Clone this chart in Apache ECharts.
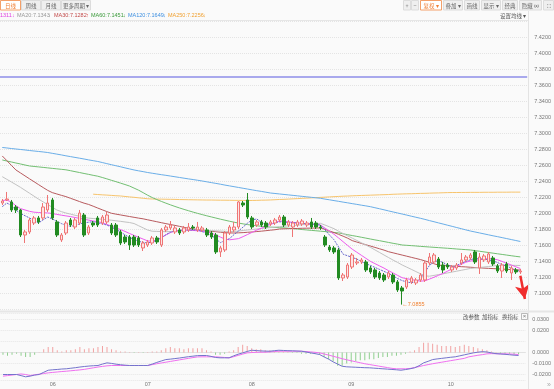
<!DOCTYPE html>
<html><head><meta charset="utf-8">
<script src="https://cdn.jsdelivr.net/npm/echarts@6/dist/echarts.min.js"></script>
<style>html,body{margin:0;padding:0;background:#fafafa}#c{width:554px;height:389px}</style>
</head><body><div id="c"></div>
<script>
// ---- data ----
const monthIdx = [11, 32, 55, 77, 99];
const monthLabels = ['06', '07', '08', '09', '10'];
const slotCount = 116;
// [open, close, low, high]
const ohlc = [
[7.2125,7.215,7.21,7.2175],[7.2163,7.2175,7.215,7.2263],[7.2138,7.2038,7.2013,7.2163],[7.2075,7.2038,7.2,7.21],
[7.2038,7.1725,7.17,7.205],[7.1725,7.1763,7.1625,7.1788],[7.1763,7.1913,7.1738,7.1938],[7.1875,7.1938,7.185,7.1963],
[7.1938,7.1888,7.1863,7.1963],[7.1938,7.2075,7.1913,7.2125],[7.2038,7.2125,7.2013,7.2225],[7.2163,7.1938,7.1913,7.2188],
[7.1888,7.1725,7.17,7.1913],[7.1663,7.1725,7.1638,7.175],[7.175,7.1875,7.1725,7.19],[7.1913,7.185,7.1825,7.1938],
[7.1825,7.1913,7.18,7.1938],[7.1875,7.2,7.185,7.2038],[7.1975,7.1725,7.17,7.2],[7.175,7.1825,7.1725,7.185],
[7.1875,7.185,7.1825,7.19],[7.1938,7.185,7.1825,7.1963],[7.1875,7.195,7.185,7.1975],[7.1888,7.1975,7.1863,7.2013],
[7.185,7.175,7.1725,7.1875],[7.185,7.1725,7.17,7.1875],[7.1763,7.1625,7.16,7.1788],[7.17,7.1638,7.1613,7.1725],
[7.17,7.16,7.1538,7.1725],[7.17,7.16,7.1575,7.1725],[7.1688,7.16,7.1575,7.1713],[7.1563,7.1625,7.1525,7.165],
[7.16,7.1638,7.1575,7.1663],[7.1625,7.1688,7.16,7.1713],[7.1688,7.1638,7.1613,7.1713],[7.16,7.1788,7.1575,7.1813],
[7.1788,7.1825,7.1763,7.185],[7.1813,7.185,7.1788,7.19],[7.1763,7.1813,7.1738,7.1838],[7.1788,7.175,7.1725,7.1813],
[7.1763,7.1813,7.1738,7.1838],[7.1788,7.1825,7.1763,7.1875],[7.1825,7.1813,7.1788,7.185],[7.1788,7.1825,7.1763,7.1888],
[7.1788,7.1813,7.1763,7.1838],[7.1788,7.1725,7.17,7.1813],[7.175,7.17,7.1675,7.1775],[7.1725,7.1513,7.1488,7.175],
[7.1513,7.1563,7.145,7.1588],[7.1538,7.175,7.1513,7.1775],[7.175,7.1825,7.1725,7.185],[7.1788,7.1825,7.1763,7.1888],
[7.1825,7.2138,7.18,7.215],[7.2125,7.21,7.2075,7.215],[7.2163,7.195,7.1925,7.225],[7.1938,7.1825,7.18,7.1963],
[7.185,7.1888,7.1825,7.1913],[7.1888,7.185,7.1825,7.1913],[7.1875,7.1825,7.18,7.19],[7.1863,7.1888,7.1838,7.1913],
[7.1875,7.1913,7.185,7.1938],[7.1913,7.195,7.1888,7.1975],[7.195,7.185,7.1825,7.1975],[7.185,7.1888,7.1825,7.1913],
[7.1825,7.1875,7.17,7.19],[7.185,7.1888,7.1825,7.1913],[7.1863,7.19,7.1838,7.1925],[7.185,7.1875,7.1825,7.19],
[7.1888,7.1825,7.18,7.1938],[7.1875,7.1825,7.18,7.19],[7.1825,7.1813,7.1788,7.185],[7.17,7.16,7.1575,7.1725],
[7.1575,7.1538,7.1513,7.16],[7.1563,7.1513,7.1488,7.1588],[7.1538,7.1188,7.1163,7.1563],[7.1188,7.1225,7.115,7.125],
[7.12,7.135,7.1175,7.1375],[7.1325,7.1475,7.13,7.15],[7.1375,7.1388,7.135,7.1438],[7.1388,7.1413,7.1363,7.1438],
[7.1388,7.1288,7.1263,7.1413],[7.1313,7.1263,7.1238,7.1338],[7.1288,7.12,7.1175,7.1313],[7.125,7.1188,7.1163,7.1275],
[7.1225,7.1163,7.1138,7.125],[7.12,7.125,7.1175,7.1275],[7.1225,7.1138,7.1113,7.125],[7.1138,7.1038,7.1013,7.1163],
[7.1063,7.1025,7.0855,7.1088],[7.1075,7.1163,7.105,7.1188],[7.1138,7.1188,7.1113,7.1213],[7.1125,7.1163,7.11,7.1188],
[7.1163,7.1225,7.1138,7.125],[7.1163,7.1375,7.1138,7.14],[7.1375,7.145,7.135,7.15],[7.1388,7.1475,7.1363,7.15],
[7.1425,7.1325,7.13,7.145],[7.135,7.1288,7.125,7.1388],[7.135,7.1325,7.13,7.1375],[7.1288,7.1325,7.1263,7.135],
[7.1313,7.135,7.1288,7.1375],[7.1375,7.1413,7.135,7.15],[7.1413,7.145,7.1388,7.1475],[7.1438,7.1475,7.1413,7.15],
[7.1513,7.1388,7.1363,7.1538],[7.1313,7.145,7.1238,7.15],[7.1413,7.1463,7.1388,7.1488],[7.1388,7.1488,7.1363,7.1513],
[7.1438,7.1363,7.1338,7.1463],[7.1338,7.1275,7.125,7.1363],[7.1275,7.135,7.1188,7.1375],[7.1363,7.1275,7.125,7.1388],
[7.125,7.1313,7.1163,7.1338],[7.1288,7.1263,7.1238,7.1313],[7.1263,7.1275,7.1238,7.13]
];
const ma5 = [7.2079,7.2125,7.2095,7.2035,7.1995,7.1966,7.1938,7.1905,7.1875,7.1915,7.195,7.1926,7.1897,7.1868,7.1846,7.1833,7.1845,7.1864,7.1876,7.1885,
7.1891,7.1877,7.1864,7.185,7.1823,7.1795,7.1765,7.1727,7.1696,7.1669,7.1645,7.1634,7.1625,7.164,7.1658,7.1692,7.1728,7.176,7.1775,7.1785,
7.1788,7.1788,7.1788,7.1788,7.1767,7.1745,7.1724,7.1676,7.163,7.1655,7.168,7.173,7.1776,7.1825,7.1875,7.1915,7.1925,7.1885,7.1855,7.1865,
7.1878,7.189,7.1886,7.1882,7.1878,7.1874,7.187,7.1866,7.1862,7.1857,7.185,7.179,7.1725,7.1665,7.1575,7.1485,7.1465,7.1445,7.1425,7.1395,
7.1366,7.1345,7.132,7.1295,7.127,7.1245,7.1215,7.118,7.1155,7.1138,7.1128,7.114,7.118,7.126,7.1345,7.139,7.1405,7.138,7.135,7.133,
7.1345,7.1372,7.1395,7.1415,7.1432,7.1428,7.1422,7.1415,7.14,7.138,7.1355,7.1335,7.1312,7.129,7.127];
const ma10 = [7.2156,7.2162,7.2136,7.2091,7.2055,7.2038,7.2021,7.201,7.2006,7.2003,7.2001,7.1993,7.1983,7.1973,7.1964,7.1955,7.1944,7.1933,7.1922,7.1911,
7.19,7.1892,7.1878,7.1857,7.1836,7.1814,7.1793,7.177,7.1744,7.172,7.1697,7.1674,7.1651,7.1648,7.1658,7.169,7.1726,7.1755,7.1775,7.1782,
7.1787,7.1787,7.1782,7.1778,7.1773,7.1767,7.175,7.1725,7.1699,7.1674,7.1665,7.1672,7.168,7.1705,7.1732,7.1759,7.1786,7.181,7.1833,7.1856,
7.1878,7.19,7.1894,7.1889,7.1883,7.1877,7.1872,7.1866,7.1861,7.1855,7.185,7.1812,7.1773,7.1734,7.1688,7.1641,7.1594,7.1548,7.151,7.1472,
7.1434,7.1396,7.1367,7.1339,7.1311,7.1279,7.125,7.122,7.1191,7.1179,7.1168,7.1158,7.1148,7.1153,7.1174,7.1197,7.1221,7.1245,7.1274,7.1302,
7.1331,7.1358,7.1385,7.1399,7.1408,7.1416,7.1424,7.1432,7.1425,7.1415,7.1394,7.1372,7.135,7.1328,7.1306];
const ma20 = [7.2454,7.2421,7.2388,7.2355,7.2321,7.2284,7.2247,7.221,7.2173,7.2139,7.2105,7.2072,7.2038,7.2017,7.2,7.1986,7.1972,7.1959,7.1945,7.1936,
7.1931,7.1926,7.1921,7.1916,7.191,7.1903,7.1896,7.1888,7.1881,7.1868,7.1841,7.1814,7.1787,7.1772,7.177,7.1768,7.1766,7.1769,7.1772,7.1775,
7.1778,7.1781,7.1784,7.1787,7.1786,7.1783,7.178,7.1777,7.1774,7.1771,7.1768,7.1769,7.1775,7.1782,7.1788,7.1794,7.18,7.1806,7.1812,7.1818,
7.1824,7.1829,7.1834,7.1839,7.1843,7.1848,7.1853,7.1857,7.1862,7.1866,7.1871,7.185,7.1827,7.1804,7.1772,7.1743,7.1714,7.1686,7.1657,7.1628,
7.16,7.1571,7.1539,7.1507,7.1475,7.1443,7.1411,7.1382,7.135,7.1323,7.1296,7.1268,7.1241,7.1214,7.121,7.122,7.123,7.124,7.1251,7.1262,
7.1273,7.1284,7.1295,7.1307,7.1313,7.1319,7.1325,7.1331,7.1338,7.1344,7.1348,7.1348,7.1346,7.1345,7.1344];
const ma30 = [7.2713,7.2655,7.2596,7.2538,7.2501,7.2464,7.2427,7.2391,7.2354,7.2318,7.2283,7.2255,7.2238,7.2221,7.2205,7.2184,7.2164,7.2143,7.2123,7.2107,
7.2085,7.2062,7.204,7.2018,7.1997,7.1986,7.1976,7.1966,7.1956,7.1946,7.1936,7.1927,7.1915,7.1903,7.1891,7.1879,7.1867,7.1856,7.1845,7.1833,
7.1821,7.1809,7.1801,7.1793,7.1785,7.1778,7.1772,7.1766,7.176,7.1755,7.1751,7.175,7.1752,7.1755,7.1759,7.1763,7.1768,7.1773,7.1779,7.1785,
7.1791,7.18,7.1802,7.1804,7.1805,7.1807,7.1809,7.181,7.1811,7.1812,7.1813,7.1795,7.1775,7.1755,7.1733,7.171,7.1685,7.1655,7.1637,7.162,
7.1603,7.1587,7.157,7.1553,7.1536,7.1516,7.1502,7.1488,7.1474,7.146,7.1446,7.1432,7.1418,7.1401,7.1384,7.1366,7.1348,7.1344,7.134,7.1337,
7.1333,7.1329,7.1326,7.1322,7.1318,7.1315,7.1311,7.1308,7.1305,7.1302,7.1299,7.1296,7.1293,7.129,7.1287];
const ma60 = [7.2663,7.265,7.2638,7.2625,7.2613,7.26,7.2588,7.2582,7.2576,7.257,7.2564,7.2558,7.2552,7.2546,7.254,7.2529,7.2517,7.2506,7.2494,7.2483,
7.2471,7.246,7.2444,7.2427,7.2409,7.2392,7.2374,7.2356,7.2337,7.2311,7.2285,7.2254,7.2222,7.2193,7.2168,7.2145,7.2123,7.2102,7.2082,7.2063,
7.2045,7.2028,7.2011,7.1995,7.198,7.1965,7.1951,7.1937,7.1923,7.191,7.1897,7.1885,7.1874,7.1864,7.1855,7.1847,7.184,7.1834,7.1829,7.1824,
7.182,7.1816,7.1814,7.1809,7.1804,7.1799,7.1793,7.1788,7.1783,7.1778,7.1773,7.1768,7.1762,7.1757,7.1751,7.174,7.1729,7.1718,7.1708,7.1697,
7.1686,7.1675,7.1664,7.1654,7.1643,7.1632,7.1621,7.1611,7.16,7.1596,7.1592,7.1588,7.1583,7.1579,7.1575,7.1571,7.1567,7.1563,7.1559,7.1555,
7.155,7.1546,7.1542,7.1538,7.153,7.1522,7.1514,7.1506,7.1498,7.149,7.1482,7.1474,7.1466,7.1458,7.1451];
const ma120 = [7.2819,7.2813,7.2806,7.28,7.2794,7.2788,7.2781,7.2775,7.2769,7.2763,7.2756,7.2746,7.2736,7.2726,7.2715,7.2705,7.2695,7.2685,7.2675,7.2664,
7.2654,7.2644,7.2631,7.2617,7.2604,7.2591,7.2578,7.2564,7.2551,7.2538,7.2527,7.2517,7.2506,7.2497,7.2488,7.2479,7.2471,7.2462,7.2453,7.2444,
7.2435,7.2426,7.2418,7.2409,7.24,7.239,7.238,7.237,7.236,7.2349,7.2339,7.2329,7.2319,7.2309,7.2299,7.2289,7.2279,7.227,7.226,7.225,
7.2244,7.2238,7.2232,7.2226,7.222,7.2214,7.2208,7.2202,7.2196,7.219,7.2184,7.2174,7.2165,7.2155,7.2146,7.2136,7.2127,7.2117,7.2108,7.2098,
7.2089,7.2079,7.2066,7.2053,7.204,7.2026,7.2013,7.2,7.1987,7.1974,7.196,7.1947,7.1934,7.192,7.1905,7.1891,7.1876,7.1862,7.1847,7.1833,
7.1818,7.1804,7.1789,7.1775,7.1763,7.1751,7.1739,7.1727,7.1715,7.1704,7.1692,7.168,7.1668,7.1656,7.1644];
const ma250 = [null,null,null,null,null,null,null,null,null,null,null,null,null,null,null,null,null,null,null,null,
7.2235,7.2231,7.2227,7.2224,7.222,7.2216,7.2213,7.2207,7.2201,7.2196,7.219,7.2184,7.2178,7.2175,7.2174,7.2173,7.2172,7.2171,7.217,7.2168,
7.2167,7.2166,7.2165,7.2164,7.2163,7.2162,7.2162,7.2161,7.216,7.216,7.2159,7.2158,7.2158,7.2157,7.2156,7.2157,7.2158,7.216,7.2161,7.2163,
7.2166,7.2169,7.2171,7.2174,7.2177,7.218,7.2183,7.2186,7.2189,7.2192,7.2195,7.2198,7.2201,7.2204,7.2207,7.221,7.2212,7.2215,7.2217,7.2219,
7.2221,7.2223,7.2225,7.2227,7.2229,7.2231,7.2234,7.2236,7.2238,7.224,7.2241,7.2243,7.2245,7.2246,7.2248,7.225,7.2251,7.2253,7.2255,7.2256,
7.2256,7.2257,7.2257,7.2258,7.2258,7.2258,7.2259,7.2259,7.2259,7.226,7.226,7.226,7.2261,7.2261,7.2261];
const dif = [-0.02,-0.02,-0.02,-0.02,-0.021,-0.0221,-0.0215,-0.0205,-0.02,-0.018,-0.0161,-0.0157,-0.0154,-0.015,-0.0148,-0.0143,-0.0138,-0.0132,-0.0127,-0.0123,
-0.012,-0.0118,-0.0105,-0.0094,-0.0099,-0.0106,-0.0111,-0.0115,-0.0118,-0.0118,-0.0118,-0.0118,-0.0118,-0.0105,-0.009,-0.0077,-0.0064,-0.006,-0.0055,-0.005,
-0.0044,-0.0038,-0.0033,-0.0028,-0.0027,-0.0027,-0.0035,-0.0045,-0.0048,-0.0048,-0.0048,-0.003,-0.0015,-0.0003,0.001,0.0021,0.0018,0.0015,0.0013,0.0012,
0.0017,0.0021,0.0019,0.0017,0.0016,0.0014,0.0012,0.0005,-0.0003,-0.001,-0.0018,-0.004,-0.006,-0.0085,-0.0105,-0.0125,-0.013,-0.0132,-0.0134,-0.0136,
-0.0138,-0.0139,-0.0142,-0.0145,-0.0148,-0.0151,-0.0154,-0.0157,-0.0161,-0.0155,-0.0148,-0.0139,-0.012,-0.0094,-0.008,-0.0064,-0.0058,-0.0053,-0.0048,-0.0043,
-0.0039,-0.003,-0.0021,-0.0012,-0.0003,0.0003,0.0008,0.0005,-0.0003,-0.001,-0.0013,-0.0016,-0.002,-0.0024,-0.0027];
const dea = [-0.0215,-0.021,-0.0205,-0.02,-0.0195,-0.02,-0.0209,-0.0203,-0.0197,-0.0191,-0.0185,-0.0181,-0.0177,-0.0173,-0.017,-0.0166,-0.0162,-0.0158,-0.0153,-0.0146,
-0.0139,-0.0132,-0.0126,-0.0121,-0.0118,-0.0118,-0.0118,-0.0118,-0.0118,-0.0118,-0.0118,-0.0118,-0.0118,-0.011,-0.0102,-0.0095,-0.0088,-0.0081,-0.0074,-0.0067,
-0.006,-0.0053,-0.0046,-0.004,-0.0039,-0.0039,-0.0039,-0.0039,-0.0042,-0.0045,-0.0048,-0.0038,-0.0026,-0.0014,-0.0003,0,0.0002,0.0003,0.0003,0.0006,
0.0009,0.0012,0.0012,0.0012,0.0012,0.0012,0.0012,0.0009,0.0006,0.0002,-0.0003,-0.0013,-0.0023,-0.0034,-0.0045,-0.0056,-0.0066,-0.0075,-0.0084,-0.0093,
-0.0102,-0.0109,-0.0116,-0.0123,-0.013,-0.0137,-0.0144,-0.0148,-0.0148,-0.0148,-0.0145,-0.0137,-0.0128,-0.0118,-0.011,-0.0102,-0.0095,-0.0088,-0.0081,-0.0074,
-0.0067,-0.006,-0.0053,-0.0039,-0.0032,-0.0025,-0.0019,-0.0012,-0.001,-0.0011,-0.0012,-0.0012,-0.0013,-0.0015,-0.0018];
const macdHist = [-0.002,-0.003,-0.002,-0.001,-0.003,-0.004,-0.004,-0.002,0.0003,0.003,0.005,0.005,0.002,0.001,0.002,0.002,0.003,0.005,0.003,0.004,
0.004,0.005,0.006,0.005,0.003,0.002,0.001,0.001,0.0005,-0.0005,0.0005,-0.0005,0.0005,0.001,0.001,0.002,0.004,0.005,0.004,0.004,
0.003,0.004,0.004,0.004,0.004,0.002,0.001,-0.002,-0.002,-0.001,0.001,0.002,0.005,0.007,0.006,0.004,0.003,0.003,0.002,0.002,
0.001,0.001,0.001,0.0005,-0.0005,-0.0005,-0.001,-0.001,-0.001,-0.001,-0.002,-0.004,-0.006,-0.008,-0.012,-0.012,-0.01,-0.009,-0.008,-0.007,
-0.007,-0.006,-0.006,-0.005,-0.004,-0.004,-0.003,-0.003,-0.002,-0.001,0.001,0.002,0.005,0.009,0.009,0.008,0.007,0.006,0.006,0.006,
0.005,0.006,0.007,0.006,0.005,0.004,0.003,0.002,0.001,0.0005,-0.001,-0.001,-0.001,-0.0015,-0.0015];
const hLineLevel = 7.3696;
const lowPoint = { index: 88, value: 7.0855 };
const arrowFrom = [114, 7.1215];
const arrowTo = [115, 7.0925];
const mainTicks = { min: 7.08, max: 7.44, step: 0.02 };
const macdLabelValues = [0.03, 0.02, 0, -0.01, -0.02];

// ---- chart ----
const cats = Array.from({ length: slotCount }, (_, i) => 'd' + i);
const chart = echarts.init(document.getElementById('c'), null, { renderer: 'canvas' });
const FONT = '"Liberation Sans", Arial, "Noto Sans CJK SC", sans-serif';
const CJK = '"Noto Sans CJK SC", "Liberation Sans", sans-serif';

function txt(x, y, text, fill, size, align, font) {
  return { type: 'text', x: x, y: y, silent: true, z: 100,
    style: { text: text, fill: fill, font: (size || 5.5) + 'px ' + (font || FONT), textAlign: align || 'left', textVerticalAlign: 'middle' } };
}
function btn(x, w, text, active) {
  return [
    { type: 'rect', shape: { x: x + 0.5, y: 0.5, width: w, height: 9.5 }, silent: true, z: 99,
      style: { fill: active ? '#ffffff' : '#efefef', stroke: active ? '#f3a06a' : '#dcdcdc', lineWidth: 1 } },
    txt(x + w / 2 + 0.5, 5.5, text, active ? '#f07f34' : '#666', 5.5, 'center', CJK)
  ];
}
const graphics = [].concat(
  btn(0, 20, '日线', true), btn(21, 19, '周线'), btn(41, 19, '月线'), btn(61, 29, '更多周期 ▾'),
  btn(403, 7, '+'), btn(411, 7, '−'), btn(420, 21, '复权 ▾', true), btn(443, 19, '叠加 ▾'),
  btn(464, 15, '画线'), btn(481, 19, '显示 ▾'), btn(502, 15, '经典'), btn(519, 22, '隐藏 ∞'), btn(543, 10, '⛶'),
  [
    txt(0, 15.5, '1311', '#e040e0'), txt(12, 15.5, '↓', '#e040e0'),
    txt(17, 15.5, 'MA20:7.1343', '#999999'), txt(48, 15.5, '↓', '#999999'),
    txt(54, 15.5, 'MA30:7.1282', '#c24a4a'), txt(86, 15.5, '↑', '#e03030'),
    txt(91, 15.5, 'MA60:7.1451', '#3a9a3a'), txt(123, 15.5, '↓', '#3a9a3a'),
    txt(128, 15.5, 'MA120:7.1649', '#3d8fe0'), txt(163, 15.5, '↓', '#3d8fe0'),
    txt(168, 15.5, 'MA250:7.2256', '#f0a030'), txt(203, 15.5, '↓', '#f0a030'),
    txt(500, 15.5, '设置均线 ▾', '#555', 5.5, 'left', CJK),
    txt(463, 317, '改参数', '#555', 5.5, 'left', CJK),
    txt(482, 317, '加指标', '#555', 5.5, 'left', CJK),
    txt(502, 317, '换指标', '#555', 5.5, 'left', CJK),
    { type: 'rect', shape: { x: 521.5, y: 313.5, width: 6, height: 6 }, silent: true, z: 99, style: { fill: '#fafafa', stroke: '#aaa', lineWidth: 0.8 } },
    txt(524.5, 316.8, '×', '#777', 6, 'center'),
    txt(549, 385, '»', '#aaa', 7, 'center'),
    { type: 'line', shape: { x1: 0, y1: 20.5, x2: 528, y2: 20.5 }, silent: true, z: 98, style: { stroke: '#e6e6e6', lineWidth: 1 } },
    { type: 'line', shape: { x1: 528.5, y1: 11, x2: 528.5, y2: 389 }, silent: true, z: 98, style: { stroke: '#e3e3e3', lineWidth: 1 } },
    { type: 'line', shape: { x1: 0, y1: 311.5, x2: 554, y2: 311.5 }, silent: true, z: 98, style: { stroke: '#e6e6e6', lineWidth: 2 } }
  ]
);

function maSeries(name, data, color, dash) {
  return { name: name, type: 'line', xAxisIndex: 0, yAxisIndex: 0, data: data, symbol: 'none', silent: true,
    lineStyle: { color: color, width: 1, type: dash || 'solid' }, z: 3 };
}

const option = {
  backgroundColor: '#fafafa',
  animation: false,
  graphic: graphics,
  grid: [
    { left: 0, right: 26, top: 21, height: 288 },
    { left: 0, right: 26, top: 313, height: 67 }
  ],
  xAxis: [
    { type: 'category', gridIndex: 0, data: cats, axisLine: { show: false }, axisTick: { show: false }, axisLabel: { show: false }, splitLine: { show: false } },
    { type: 'category', gridIndex: 1, data: cats, axisLine: { show: true, lineStyle: { color: '#e2e2e2' } }, axisTick: { show: false },
      axisLabel: { interval: 0, fontSize: 5.5, color: '#777', margin: 2, fontFamily: FONT,
        formatter: function (v, i) { const k = monthIdx.indexOf(i); return k >= 0 ? monthLabels[k] : ''; } },
      splitLine: { show: false } }
  ],
  yAxis: [
    { type: 'value', gridIndex: 0, position: 'right', min: mainTicks.min, max: mainTicks.max, interval: mainTicks.step,
      axisLine: { show: false }, axisTick: { show: false },
      axisLabel: { fontSize: 5.5, color: '#777', margin: 7, fontFamily: FONT,
        formatter: function (v) { return (v < 7.09 || v > 7.43) ? '' : v.toFixed(4); } },
      splitLine: { lineStyle: { color: '#e4e4e4', type: 'dotted', width: 1 } } },
    { type: 'value', gridIndex: 1, position: 'right', min: -0.025, max: 0.036,
      axisLine: { show: false }, axisTick: { show: false },
      axisLabel: { fontSize: 5.5, color: '#777', margin: 7, fontFamily: FONT, customValues: macdLabelValues,
        formatter: function (v) { return v.toFixed(4); } },
      splitLine: { lineStyle: { color: '#e6e6e6', type: 'dotted', width: 1 } } }
  ],
  series: [
    maSeries('MA250', ma250, '#f7c46c'),
    maSeries('MA120', ma120, '#6aaee8'),
    maSeries('MA60', ma60, '#72bf72'),
    maSeries('MA30', ma30, '#b85a5e'),
    maSeries('MA20', ma20, '#c2c2c2'),
    { type: 'candlestick', xAxisIndex: 0, yAxisIndex: 0, data: ohlc, barWidth: 3, silent: true, z: 4,
      itemStyle: { color: '#fde4e4', borderColor: '#ef7575', color0: '#228b22', borderColor0: '#228b22', borderWidth: 1 },
      markLine: { silent: true, symbol: 'none', label: { show: false }, animation: false,
        data: [
          { yAxis: hLineLevel, lineStyle: { color: '#8e8ee8', width: 1.5, type: 'solid' } },
          [ { coord: arrowFrom, symbol: 'none', lineStyle: { color: '#f02d2d', width: 2.5, type: 'solid' } },
            { coord: arrowTo, symbol: 'arrow', symbolSize: [11, 14] } ]
        ] },
      markPoint: { silent: true, symbol: 'circle', symbolSize: 0.1, itemStyle: { color: 'rgba(0,0,0,0)' },
        data: [ { coord: [lowPoint.index, lowPoint.value],
          label: { show: true, position: 'right', distance: 0, formatter: '←' + lowPoint.value.toFixed(4), color: '#f08030', fontSize: 5.5, fontFamily: FONT } } ] }
    },
    maSeries('MA10', ma10, '#ee5bee'),
    maSeries('MA5', ma5, '#6868cc', [2, 1]),
    { type: 'bar', xAxisIndex: 1, yAxisIndex: 1, data: macdHist, barWidth: 1, silent: true,
      itemStyle: { color: function (p) { return p.value >= 0 ? '#f2a2a2' : '#8fcf8f'; } } },
    { type: 'line', xAxisIndex: 1, yAxisIndex: 1, data: dea, symbol: 'none', silent: true, lineStyle: { color: '#f070f0', width: 1 } },
    { type: 'line', xAxisIndex: 1, yAxisIndex: 1, data: dif, symbol: 'none', silent: true, lineStyle: { color: '#7474cc', width: 1 } }
  ]
};
chart.setOption(option);
</script></body></html>
